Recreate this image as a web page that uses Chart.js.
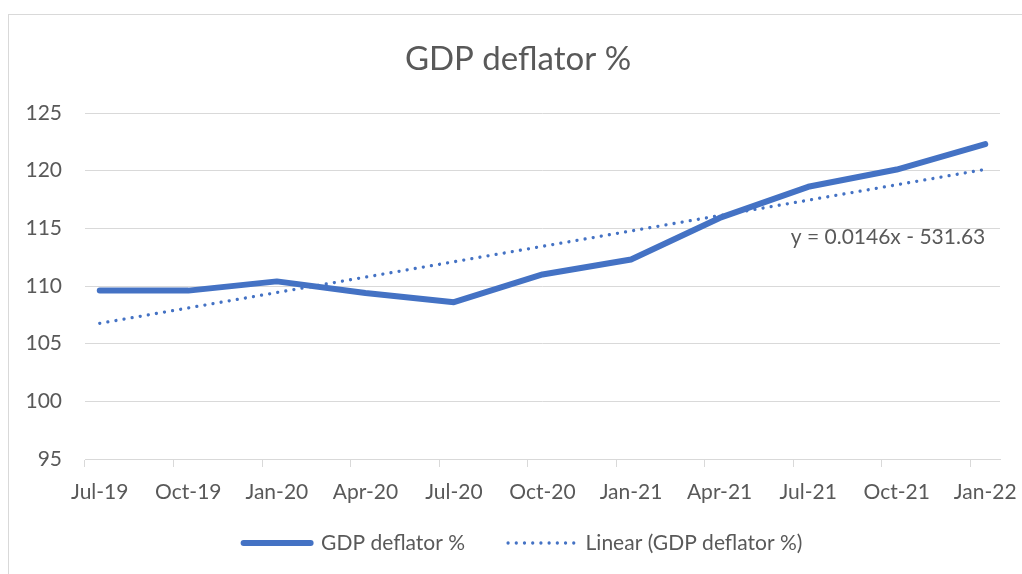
<!DOCTYPE html>
<html>
<head>
<meta charset="utf-8">
<title>GDP deflator %</title>
<script src="https://cdn.jsdelivr.net/npm/chart.js@4/dist/chart.umd.min.js"></script>
<style>
  html, body { margin: 0; padding: 0; background: #ffffff; }
  canvas { display: block; }
</style>
</head>
<body>
<canvas id="chart" width="1022" height="574"></canvas>
<script>
// Quarterly observations
const quarters = ['Jul-19', 'Oct-19', 'Jan-20', 'Apr-20', 'Jul-20', 'Oct-20', 'Jan-21', 'Apr-21', 'Jul-21', 'Oct-21', 'Jan-22'];
const gdpDeflator = [109.6, 109.6, 110.4, 109.4, 108.6, 111.0, 112.3, 115.9, 118.6, 120.1, 122.3];
const yTicks = [95, 100, 105, 110, 115, 120, 125];
const seriesName = 'GDP deflator %';
const trendName = 'Linear (GDP deflator %)';
const trendEquation = 'y = 0.0146x - 531.63';

const TEXT = '#595959';
const GRID = '#D9D9D9';
const BLUE = '#4472C4';
const FONT = 'Lato, "Open Sans", sans-serif';
const TICK_SIZE = 21;

// Date axis in monthly slots (Jul-19 .. Jan-22); only quarter starts are labelled
const MONTHS = ['Jan', 'Feb', 'Mar', 'Apr', 'May', 'Jun', 'Jul', 'Aug', 'Sep', 'Oct', 'Nov', 'Dec'];
const monthSlots = [];
for (let k = 0; k <= 30; k++) {
  const m = (6 + k) % 12;
  const yr = 19 + Math.floor((6 + k) / 12);
  monthSlots.push(MONTHS[m] + '-' + yr);
}

// Least-squares linear trend over the series
const xs = quarters.map(q => monthSlots.indexOf(q));
const n = xs.length;
const mx = xs.reduce((a, b) => a + b, 0) / n;
const my = gdpDeflator.reduce((a, b) => a + b, 0) / n;
let sxy = 0, sxx = 0;
xs.forEach((x, i) => { sxy += (x - mx) * (gdpDeflator[i] - my); sxx += (x - mx) * (x - mx); });
const slope = sxy / sxx;
const intercept = my - slope * mx;
const trendPoints = [quarters[0], quarters[n - 1]].map(q => ({ x: q, y: intercept + slope * monthSlots.indexOf(q) }));

// Light frame around the whole chart
const chartFrame = {
  id: 'chartFrame',
  beforeDraw(chart) {
    const ctx = chart.ctx;
    ctx.save();
    ctx.fillStyle = '#ffffff';
    ctx.fillRect(0, 0, chart.width, chart.height);
    ctx.strokeStyle = GRID;
    ctx.lineWidth = 1;
    ctx.strokeRect(8.5, 14.5, chart.width + 10, chart.height + 10);
    ctx.restore();
  }
};

// Place title, axis-label band and legend: title centred at x 518, legend row centred at (523, 543)
const boxPlacement = {
  id: 'boxPlacement',
  afterLayout(chart) {
    const t = chart.titleBlock;
    if (t) {
      const dx = 518 - (t.left + t.right) / 2;
      t.left += dx; t.right += dx;
    }
    const xScale = chart.scales.x;
    xScale.bottom = xScale.top + 52;
    const lg = chart.legend;
    if (lg) {
      const pad = lg.options.labels.padding;
      const h = lg.bottom - lg.top;
      const dx = 523 - (lg.left + lg.right) / 2;
      lg.left += dx; lg.right += dx;
      lg.top = 543 - pad - TICK_SIZE / 2;
      lg.bottom = lg.top + h;
    }
  }
};

// Trendline equation, right-aligned under the end of the trendline
const equationLabel = {
  id: 'equationLabel',
  afterDatasetsDraw(chart) {
    const meta = chart.getDatasetMeta(1);
    const last = meta.data[meta.data.length - 1];
    const ctx = chart.ctx;
    ctx.save();
    ctx.font = TICK_SIZE + 'px ' + FONT;
    ctx.fillStyle = TEXT;
    ctx.textAlign = 'right';
    ctx.textBaseline = 'middle';
    ctx.fillText(trendEquation, last.x, last.y + 68);
    ctx.restore();
  }
};

new Chart(document.getElementById('chart'), {
  type: 'line',
  data: {
    labels: monthSlots,
    datasets: [
      {
        label: seriesName,
        data: quarters.map((q, i) => ({ x: q, y: gdpDeflator[i] })),
        borderColor: BLUE,
        backgroundColor: BLUE,
        borderWidth: 6,
        borderCapStyle: 'round',
        borderJoinStyle: 'round',
        pointRadius: 0,
        pointHoverRadius: 0,
        tension: 0,
        fill: false
      },
      {
        label: trendName,
        data: trendPoints,
        borderColor: BLUE,
        backgroundColor: BLUE,
        borderWidth: 3.3,
        borderDash: [0.01, 8.2],
        borderCapStyle: 'round',
        pointRadius: 0,
        pointHoverRadius: 0,
        fill: false
      }
    ]
  },
  options: {
    responsive: false,
    animation: false,
    devicePixelRatio: 1,
    layout: { padding: { left: 0, right: 22, top: 0, bottom: 0 } },
    scales: {
      x: {
        type: 'category',
        offset: true,
        afterFit(scale) {
          scale.height = 41;
          scale.paddingLeft = 0;
          scale.paddingRight = 0;
        },
        grid: {
          offset: true,
          drawOnChartArea: false,
          drawTicks: true,
          tickLength: 8,
          lineWidth: 1,
          color: ctx => (ctx.index % 3 === 0 ? GRID : 'rgba(0,0,0,0)')
        },
        border: { display: true, color: GRID, width: 1 },
        ticks: {
          autoSkip: false,
          maxRotation: 0,
          minRotation: 0,
          padding: 13,
          color: TEXT,
          font: { family: FONT, size: TICK_SIZE },
          callback(value) {
            const lbl = this.getLabelForValue(value);
            return quarters.includes(lbl) ? lbl : '';
          }
        }
      },
      y: {
        min: yTicks[0],
        max: yTicks[yTicks.length - 1],
        afterFit(scale) { scale.width = 85; },
        afterBuildTicks(scale) { scale.ticks = yTicks.map(v => ({ value: v })); },
        grid: { color: GRID, lineWidth: 1, drawTicks: false },
        border: { display: false },
        ticks: {
          padding: 23,
          color: TEXT,
          font: { family: FONT, size: TICK_SIZE }
        }
      }
    },
    plugins: {
      title: {
        display: true,
        text: seriesName,
        color: TEXT,
        font: { family: FONT, size: 33, weight: 'normal' },
        padding: { top: 40, bottom: 33.4 }
      },
      legend: {
        position: 'bottom',
        labels: {
          usePointStyle: true,
          pointStyle: 'line',
          pointStyleWidth: 67,
          padding: 43,
          color: TEXT,
          font: { family: FONT, size: TICK_SIZE },
          generateLabels(chart) {
            const items = Chart.defaults.plugins.legend.labels.generateLabels(chart);
            return items.map(item => {
              const ds = chart.data.datasets[item.datasetIndex];
              item.lineDash = ds.borderDash || [];
              item.lineCap = ds.borderCapStyle || 'butt';
              item.lineWidth = ds.borderWidth;
              item.strokeStyle = ds.borderColor;
              return item;
            });
          }
        }
      },
      tooltip: { enabled: false }
    }
  },
  plugins: [chartFrame, boxPlacement, equationLabel]
});
</script>
</body>
</html>
